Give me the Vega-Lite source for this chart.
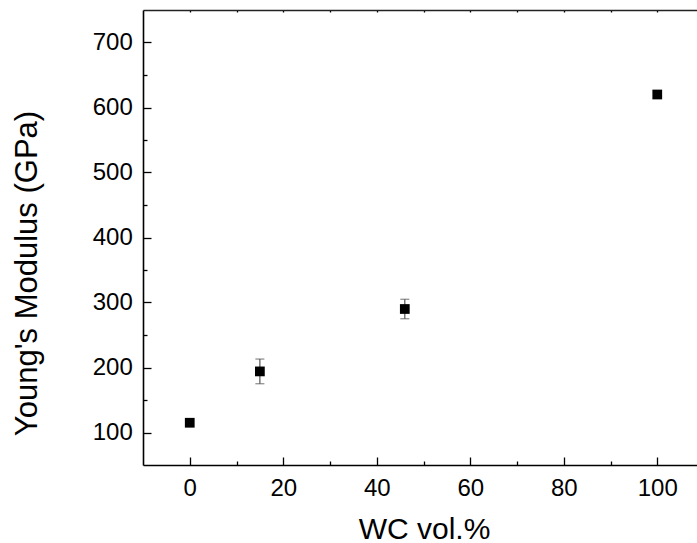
{
  "$schema": "https://vega.github.io/schema/vega-lite/v6.json",
  "width": 554,
  "height": 455,
  "autosize": "none",
  "padding": {"left": 143, "top": 10, "right": 0, "bottom": 78},
  "background": "white",
  "config": {
    "view": {"stroke": null},
    "font": "Liberation Sans",
    "axis": {
      "labelFont": "Liberation Sans",
      "titleFont": "Liberation Sans",
      "labelColor": "black",
      "titleColor": "black",
      "domainColor": "black",
      "tickColor": "black",
      "grid": false,
      "labelFontSize": 24,
      "titleFontSize": 30,
      "titleFontWeight": "normal",
      "domainWidth": 1.6,
      "tickWidth": 1.3
    }
  },
  "data": {
    "values": [
      {"wc": 0, "E": 115, "lo": null, "hi": null},
      {"wc": 15, "E": 194, "lo": 175, "hi": 213},
      {"wc": 46, "E": 290, "lo": 275, "hi": 305},
      {"wc": 100, "E": 620, "lo": null, "hi": null}
    ]
  },
  "resolve": {"axis": {"x": "independent", "y": "independent"}},
  "layer": [
    {
      "transform": [{"filter": "datum.lo != null"}],
      "mark": {"type": "rule", "color": "#555555", "strokeWidth": 1.2},
      "encoding": {
        "x": {
          "field": "wc", "type": "quantitative",
          "scale": {"domain": [-10, 108.5], "nice": false, "zero": false},
          "axis": {
            "orient": "top", "values": [0, 10, 20, 30, 40, 50, 60, 70, 80, 90, 100],
            "labels": false, "title": null, "tickSize": -2, "domainWidth": 1.4, "domainColor": "#222222"
          }
        },
        "y": {"field": "lo", "type": "quantitative", "scale": {"domain": [50, 750], "nice": false, "zero": false}, "axis": null},
        "y2": {"field": "hi"}
      }
    },
    {
      "transform": [{"filter": "datum.lo != null"}],
      "mark": {"type": "tick", "orient": "horizontal", "color": "#555555", "size": 9, "thickness": 1.2},
      "encoding": {
        "x": {
          "field": "wc", "type": "quantitative",
          "axis": {"orient": "bottom", "values": [10, 30, 50, 70, 90], "labels": false, "title": null, "domain": false, "tickSize": -4}
        },
        "y": {
          "field": "lo", "type": "quantitative",
          "axis": {"orient": "left", "values": [150, 250, 350, 450, 550, 650], "labels": false, "title": null, "domain": false, "tickSize": -4}
        }
      }
    },
    {
      "transform": [{"filter": "datum.lo != null"}],
      "mark": {"type": "tick", "orient": "horizontal", "color": "#555555", "size": 9, "thickness": 1.2},
      "encoding": {
        "x": {"field": "wc", "type": "quantitative", "axis": null},
        "y": {"field": "hi", "type": "quantitative", "axis": null}
      }
    },
    {
      "mark": {"type": "point", "shape": "square", "filled": true, "color": "black", "size": 95, "opacity": 1},
      "encoding": {
        "x": {
          "field": "wc", "type": "quantitative",
          "axis": {
            "orient": "bottom",
            "title": "WC vol.%",
            "values": [0, 20, 40, 60, 80, 100],
            "tickSize": -8,
            "labelPadding": 19.5,
            "titleBaseline": "alphabetic",
            "titleX": 281,
            "titleY": 73,
            "titleAlign": "center"
          }
        },
        "y": {
          "field": "E", "type": "quantitative",
          "axis": {
            "orient": "left",
            "title": "Young's Modulus (GPa)",
            "values": [100, 200, 300, 400, 500, 600, 700],
            "tickSize": -8,
            "labelPadding": 18.7,
            "titleAngle": -90,
            "titleFontSize": 31,
            "titleBaseline": "alphabetic",
            "titleAlign": "center",
            "titleX": -107,
            "titleY": 263
          }
        }
      }
    }
  ]
}
